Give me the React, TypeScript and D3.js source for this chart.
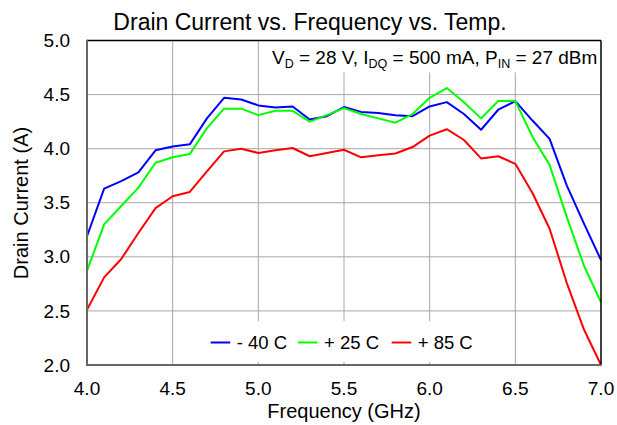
import React from 'react';
import * as d3 from 'd3';

// frequency axis, 0.1 GHz steps
const freq = d3.range(40, 71).map(d => d / 10);

const minus40 = [3.19, 3.63, 3.70, 3.78, 3.985, 4.02, 4.04, 4.28, 4.47, 4.455,
  4.40, 4.38, 4.39, 4.27, 4.30, 4.385, 4.34, 4.33, 4.31, 4.30,
  4.39, 4.43, 4.32, 4.175, 4.36, 4.44, 4.26, 4.09, 3.66, 3.31, 2.97];
const plus25 = [2.87, 3.30, 3.47, 3.64, 3.87, 3.92, 3.95, 4.19, 4.37, 4.37,
  4.31, 4.35, 4.35, 4.25, 4.31, 4.375, 4.32, 4.28, 4.24, 4.32,
  4.47, 4.56, 4.43, 4.28, 4.44, 4.44, 4.11, 3.85, 3.37, 2.92, 2.58];
const plus85 = [2.51, 2.81, 2.98, 3.22, 3.45, 3.56, 3.60, 3.79, 3.975, 4.00,
  3.96, 3.985, 4.006, 3.93, 3.96, 3.99, 3.92, 3.94, 3.955, 4.015,
  4.12, 4.18, 4.08, 3.91, 3.93, 3.86, 3.59, 3.26, 2.76, 2.33, 2.0];

const seriesNames = ['- 40 C', '+ 25 C', '+ 85 C'];
const seriesColors = ['#0000ff', '#00ff00', '#ff0000'];
const seriesData = [minus40, plus25, plus85];

const xTicks = [4.0, 4.5, 5.0, 5.5, 6.0, 6.5, 7.0];
const yTicks = [2.0, 2.5, 3.0, 3.5, 4.0, 4.5, 5.0];

const W = 617, H = 425;
const L = 87, R = 601, T = 40.5, B = 365;
const FONT = 'Liberation Sans, Arial, sans-serif';

export default function App() {
  const x = d3.scaleLinear().domain([4, 7]).range([L, R]);
  const y = d3.scaleLinear().domain([2, 5]).range([B, T]);
  const line = d3.line<number>()
    .x((_, i) => x(freq[i]))
    .y(d => y(d));

  const legendX = [210.7, 298, 391.7];

  return (
    <svg width={W} height={H} style={{ position: 'absolute', left: 0, top: 0, background: '#fff' }}
      fontFamily={FONT}>
      <rect width={W} height={H} fill="#fff" />

      {/* grid */}
      {xTicks.slice(1, -1).map(t => (
        <line key={'gx' + t} x1={x(t)} x2={x(t)} y1={T} y2={B} stroke="#a8a8a8" strokeWidth={1} />
      ))}
      {yTicks.slice(1, -1).map(t => (
        <line key={'gy' + t} x1={L} x2={R} y1={y(t)} y2={y(t)} stroke="#a8a8a8" strokeWidth={1} />
      ))}

      {/* boxes that hide the grid */}
      <rect x={262} y={T + 1} width={R - 262 - 1} height={31} fill="#fff" />
      <rect x={190} y={321} width={300} height={41} fill="#fff" />

      {/* series */}
      {seriesData.map((s, i) => (
        <path key={seriesNames[i]} d={line(s) ?? ''} fill="none" stroke={seriesColors[i]}
          strokeWidth={2} strokeLinejoin="round" />
      ))}

      {/* frame */}
      <line x1={L} x2={R} y1={T} y2={T} stroke="#000" strokeWidth={1.5} />
      <line x1={R} x2={R} y1={T} y2={B} stroke="#000" strokeWidth={1.5} />
      <line x1={L} x2={L} y1={T - 0.75} y2={B + 1} stroke="#666" strokeWidth={2} />
      <line x1={L - 1} x2={R + 0.75} y1={B} y2={B} stroke="#666" strokeWidth={2} />

      {/* ticks */}
      {yTicks.map(t => (
        <text key={'ty' + t} x={70} y={y(t)} dy="0.35em" textAnchor="end" fontSize={19}>
          {t.toFixed(1)}
        </text>
      ))}
      {xTicks.map(t => (
        <text key={'tx' + t} x={x(t)} y={395} textAnchor="middle" fontSize={19}>
          {t.toFixed(1)}
        </text>
      ))}

      {/* labels */}
      <text x={310} y={30} textAnchor="middle" fontSize={23}>Drain Current vs. Frequency vs. Temp.</text>
      <text x={(L + R) / 2} y={418} textAnchor="middle" fontSize={20}>Frequency (GHz)</text>
      <text transform={`translate(28,203) rotate(-90)`} textAnchor="middle" fontSize={20}>Drain Current (A)</text>

      {/* conditions */}
      <text x={272} y={64} fontSize={19}>
        <tspan>V</tspan>
        <tspan fontSize={12.5} dy={4}>D</tspan>
        <tspan dy={-4}> = 28 V, I</tspan>
        <tspan fontSize={12.5} dy={4}>DQ</tspan>
        <tspan dy={-4}> = 500 mA, P</tspan>
        <tspan fontSize={12.5} dy={4}>IN</tspan>
        <tspan dy={-4}> = 27 dBm</tspan>
      </text>

      {/* legend */}
      {seriesNames.map((n, i) => (
        <g key={'lg' + n}>
          <line x1={legendX[i]} x2={legendX[i] + 19.5} y1={342.5} y2={342.5}
            stroke={seriesColors[i]} strokeWidth={2} />
          <text x={legendX[i] + 26} y={348.5} fontSize={18.5}>{n}</text>
        </g>
      ))}
    </svg>
  );
}
